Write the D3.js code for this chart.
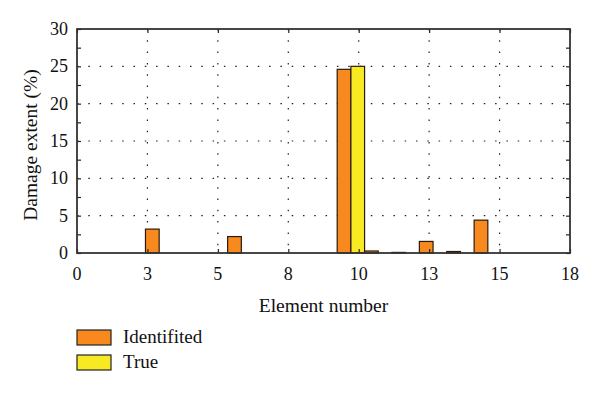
<!DOCTYPE html>
<html>
<head>
<meta charset="utf-8">
<script src="https://cdnjs.cloudflare.com/ajax/libs/d3/7.8.5/d3.min.js"></script>
<style>
  html, body { margin: 0; padding: 0; background: #fff; overflow: hidden; }
  svg { display: block; }
</style>
</head>
<body>
<div id="chart"></div>
<script>
// element numbers with damage values (%)
let elements = [3, 6, 10, 11, 12, 13, 14, 15]
let identified = [3.2, 2.2, 24.6, 0.27, 0.08, 1.55, 0.2, 4.4]
let trueValues = [0, 0, 25, 0, 0, 0, 0, 0]
let seriesNames = ['Identifited', 'True']
let xTickLabels = ['0', '3', '5', '8', '10', '13', '15', '18']
let yTicks = [0, 5, 10, 15, 20, 25, 30]

let width = 600
let height = 393
let margin = { top: 29, right: 30, bottom: 140, left: 77 }
let innerWidth = width - margin.left - margin.right
let innerHeight = height - margin.top - margin.bottom

let colors = ['#f7891f', '#f8ea22']
let fontFamily = 'Liberation Serif, DejaVu Serif, serif'

let svg = d3.select('#chart').append('svg')
  .attr('width', width)
  .attr('height', height)
  .attr('font-family', fontFamily)

let g = svg.append('g')
  .attr('transform', 'translate(' + margin.left + ',' + margin.top + ')')

let xScale = d3.scaleLinear().domain([0, 18]).range([0, innerWidth])
let yScale = d3.scaleLinear().domain([0, 30]).range([innerHeight, 0])

// x ticks are evenly split into 7 parts, labels rounded
let xTickValues = xTickLabels.map(function (d, i) { return i * 18 / 7 })
let yMinor = d3.range(0, 30.01, 2.5)

// grid
g.append('g').selectAll('line')
  .data(xTickValues.slice(1, -1))
  .enter().append('line')
  .attr('x1', function (d) { return xScale(d) })
  .attr('x2', function (d) { return xScale(d) })
  .attr('y1', 0)
  .attr('y2', innerHeight)
  .attr('stroke', '#222')
  .attr('stroke-width', 1.2)
  .attr('stroke-dasharray', '1.5,9.8')

g.append('g').selectAll('line')
  .data(yTicks.slice(1, -1))
  .enter().append('line')
  .attr('x1', 0)
  .attr('x2', innerWidth)
  .attr('y1', function (d) { return yScale(d) })
  .attr('y2', function (d) { return yScale(d) })
  .attr('stroke', '#222')
  .attr('stroke-width', 1.2)
  .attr('stroke-dasharray', '1.5,9.8')

// bars
let rows = elements.map(function (e, i) {
  return { e: e, v: [identified[i], trueValues[i]] }
})

rows.forEach(function (r) {
  r.v.forEach(function (v, k) {
    if (v <= 0) return
    g.append('rect')
      .attr('x', xScale(r.e - 0.5 + k * 0.5))
      .attr('y', yScale(v))
      .attr('width', xScale(0.5) - xScale(0))
      .attr('height', yScale(0) - yScale(v))
      .attr('fill', colors[k])
      .attr('stroke', '#2a1a0a')
      .attr('stroke-width', 1.2)
  })
})

// tick marks (inward, all four sides)
function marks (axis) {
  return axis.tickSize(-4).tickFormat(() => null)
}
let tickGroups = [
  g.append('g').attr('transform', 'translate(0,' + innerHeight + ')')
    .call(marks(d3.axisBottom(xScale).tickValues(xTickValues))),
  g.append('g').call(marks(d3.axisTop(xScale).tickValues(xTickValues))),
  g.append('g').call(marks(d3.axisLeft(yScale).tickValues(yMinor))),
  g.append('g').attr('transform', 'translate(' + innerWidth + ',0)')
    .call(marks(d3.axisRight(yScale).tickValues(yMinor)))
]
tickGroups.forEach(function (tg) {
  tg.select('.domain').remove()
  tg.selectAll('text').remove()
  tg.selectAll('line').attr('stroke', '#222').attr('stroke-width', 1.2)
})

// tick labels
g.append('g').selectAll('text')
  .data(xTickValues)
  .enter().append('text')
  .attr('x', function (d) { return xScale(d) })
  .attr('y', innerHeight + 27)
  .attr('text-anchor', 'middle')
  .attr('font-size', 18)
  .attr('fill', '#111')
  .text(function (d, i) { return xTickLabels[i] })

g.append('g').selectAll('text')
  .data(yTicks)
  .enter().append('text')
  .attr('x', -9)
  .attr('y', function (d) { return yScale(d) + 6 })
  .attr('text-anchor', 'end')
  .attr('font-size', 18)
  .attr('fill', '#111')
  .text(function (d) { return d })

// frame
g.append('rect')
  .attr('width', innerWidth)
  .attr('height', innerHeight)
  .attr('fill', 'none')
  .attr('stroke', '#333')
  .attr('stroke-width', 1.8)

// axis labels
svg.append('text')
  .attr('x', margin.left + innerWidth / 2)
  .attr('y', 312)
  .attr('text-anchor', 'middle')
  .attr('font-size', 19.5)
  .attr('fill', '#111')
  .text('Element number')

svg.append('text')
  .attr('transform', 'translate(37,' + (margin.top + innerHeight / 2 + 4) + ') rotate(-90)')
  .attr('text-anchor', 'middle')
  .attr('font-size', 19.5)
  .attr('fill', '#111')
  .text('Damage extent (%)')

// legend
let legend = svg.append('g').attr('transform', 'translate(77,330)')
seriesNames.forEach(function (name, i) {
  let row = legend.append('g').attr('transform', 'translate(0,' + (i * 25) + ')')
  row.append('rect')
    .attr('width', 34)
    .attr('height', 15)
    .attr('fill', colors[i])
    .attr('stroke', '#222')
    .attr('stroke-width', 1.2)
  row.append('text')
    .attr('x', 46)
    .attr('y', 13)
    .attr('font-size', 19)
    .attr('fill', '#111')
    .text(name)
})
</script>
</body>
</html>
